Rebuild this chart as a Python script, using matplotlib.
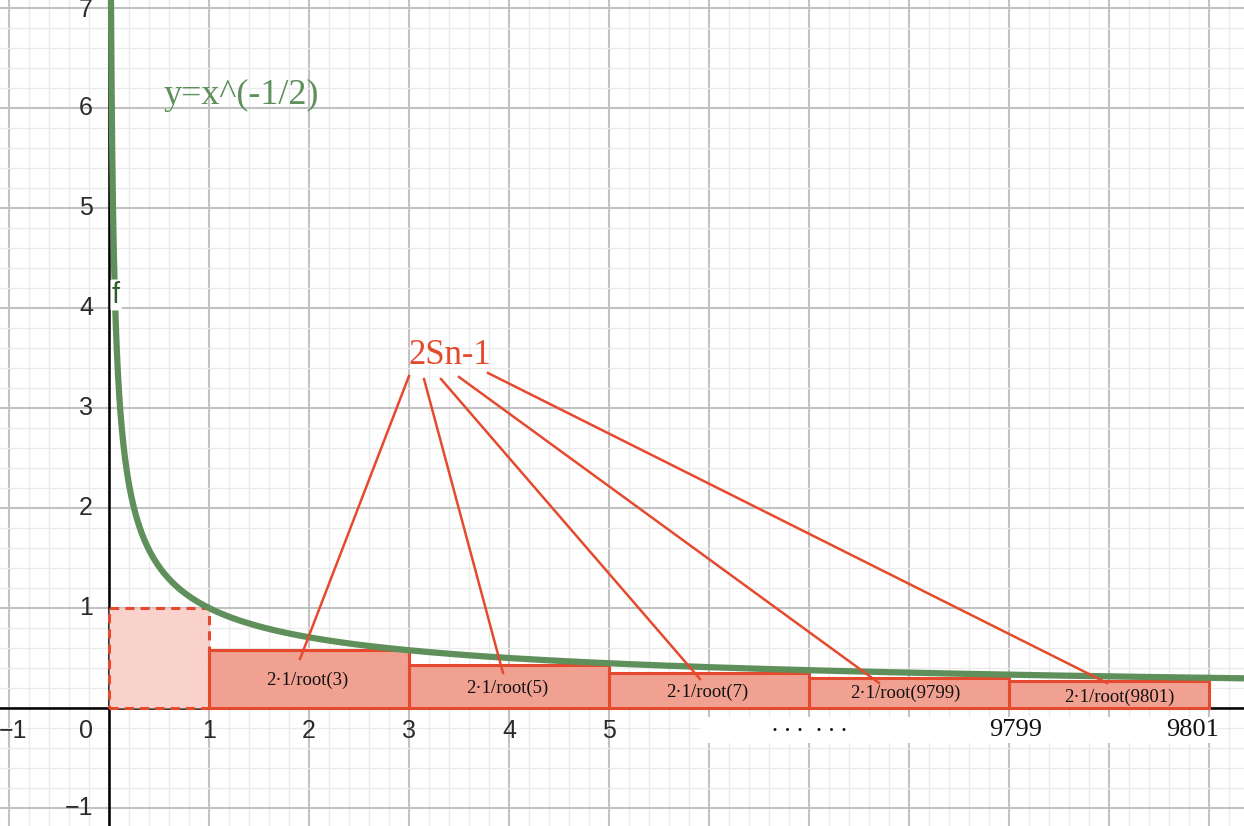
import numpy as np
import matplotlib
matplotlib.use("Agg")
import matplotlib.pyplot as plt
from matplotlib.patches import Rectangle
from matplotlib.ticker import MultipleLocator

# rectangles (left edge, width 2, height)
rect_left = [1, 3, 5, 7, 9]
rect_height = [0.577, 0.43, 0.35, 0.30, 0.27]
rect_labels = ["2·1/root(3)", "2·1/root(5)", "2·1/root(7)", "2·1/root(9799)", "2·1/root(9801)"]
label_x = [1.98, 3.98, 5.98, 7.96, 10.1]
label_y = [0.28, 0.20, 0.16, 0.15, 0.11]

# leader lines from the "2Sn-1" label
lead_x0 = [3.00, 3.15, 3.32, 3.50, 3.79]
lead_y0 = [3.32, 3.29, 3.29, 3.31, 3.35]
lead_x1 = [1.91, 3.94, 5.91, 7.70, 9.98]
lead_y1 = [0.49, 0.35, 0.29, 0.25, 0.25]

x_ticks = [-1, 0, 1, 2, 3, 4, 5]
y_ticks = [-1, 1, 2, 3, 4, 5, 6, 7]
far_ticks = [9, 11]
far_labels = ["9799", "9801"]

RED = "#e64a2e"
GREEN = "#5f8f5a"
SERIF = "Liberation Serif"
SANS = "Liberation Sans"

fig = plt.figure(figsize=(12.44, 8.26), dpi=100)
ax = fig.add_axes([0, 0, 1, 1])
ax.set_xlim(-1.09, 11.35)
ax.set_ylim(-1.18, 7.08)
ax.xaxis.set_major_locator(MultipleLocator(1))
ax.yaxis.set_major_locator(MultipleLocator(1))
ax.xaxis.set_minor_locator(MultipleLocator(0.2))
ax.yaxis.set_minor_locator(MultipleLocator(0.2))
ax.grid(which="major", color="#c2c2c2", lw=1.5)
ax.grid(which="minor", color="#ebebeb", lw=1.0)
ax.tick_params(which="both", length=0, labelbottom=False, labelleft=False)
ax.set_axisbelow(True)
for s in ax.spines.values():
    s.set_visible(False)

ax.axhline(0, color="black", lw=1.8, zorder=2)
ax.axvline(0, color="black", lw=1.8, zorder=2)

# white band hiding the middle tick labels
ax.add_patch(Rectangle((5.91, -0.35), 5.17, 0.26, facecolor="white",
                       edgecolor="none", zorder=1.5))

# dashed unit square
ax.add_patch(Rectangle((0, 0), 1, 1, facecolor="#f9d3cb", edgecolor=RED,
                       lw=2.2, ls=(0, (3, 2)), zorder=3))
for xl, h in zip(rect_left, rect_height):
    ax.add_patch(Rectangle((xl, 0), 2, h, facecolor="#f0a191", edgecolor=RED,
                           lw=2.2, zorder=3))
for t, lx, ly in zip(rect_labels, label_x, label_y):
    ax.text(lx, ly, t, family=SERIF, fontsize=13.5, ha="center", va="center",
            color="#111111", zorder=6)

# curve
xs = np.geomspace(0.018, 11.4, 2000)
ax.plot(xs, xs ** -0.5, color=GREEN, lw=4.5, zorder=4, solid_capstyle="butt")

for a, b, c, d in zip(lead_x0, lead_y0, lead_x1, lead_y1):
    ax.plot([a, c], [b, d], color=RED, lw=1.8, zorder=5)

ax.text(3.41, 3.53, "2Sn-1", family=SERIF, fontsize=25, color=RED,
        ha="center", va="center", zorder=6)
ax.text(0.54, 6.13, "y=x^(-1/2)", family=SERIF, fontsize=26, color=GREEN,
        ha="left", va="center", zorder=6)
ax.text(0.07, 4.13, "f", family=SANS, fontsize=21, color="#2f5e2c",
        ha="center", va="center", zorder=6,
        bbox=dict(boxstyle="round,pad=0.05", fc="white", ec="none"))

# tick labels
TC = "#2a2a2a"
for v in x_ticks:
    if v == 0:
        ax.text(-0.16, -0.23, "0", family=SANS, fontsize=18, ha="right",
                va="center", color=TC)
    else:
        ax.text(v + (0.04 if v < 0 else 0), -0.23, "\u2212" + str(-v) if v < 0 else str(v),
                family=SANS, fontsize=18, ha="center", va="center", color=TC)
for v in y_ticks:
    if v == 7:
        # top label sits against the upper edge
        ax.text(-0.16, 7.1, "7", family=SANS, fontsize=18, ha="right",
                va="top", color=TC)
    else:
        ax.text(-0.16, v, "\u2212" + str(-v) if v < 0 else str(v),
                family=SANS, fontsize=18, ha="right", va="center", color=TC)
for v, t in zip(far_ticks, far_labels):
    ax.text(v + 0.07 if v == 9 else v - 0.16, -0.22, t, family=SERIF, fontsize=19,
            ha="center", va="center", color="#111111", zorder=6)
ax.text(7.0, -0.22, "\u2022  \u2022  \u2022    \u2022  \u2022  \u2022", family="DejaVu Sans",
        fontsize=7.5, ha="center", va="center", color="#111111", zorder=6)

fig.savefig("out.png", dpi=100)
